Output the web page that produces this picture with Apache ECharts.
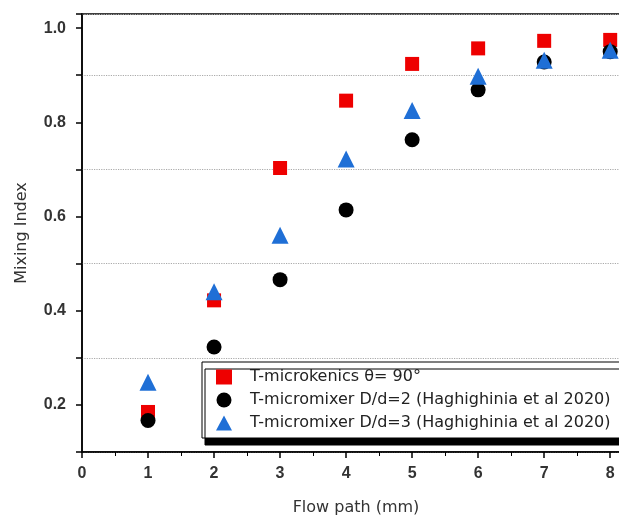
<!DOCTYPE html>
<html lang="en">
<head>
    <meta charset="UTF-8">
    <title>Mixing Index</title>
    <script type="text/javascript" src="https://cdn.jsdelivr.net/npm/echarts@6/dist/echarts.min.js"></script>
    <style>
        html, body { margin: 0; padding: 0; background: #fff; }
        #main { width: 619px; height: 517px; }
    </style>
</head>
<body>
<div id="main"></div>
<script>
    // flow path positions (mm)
    var flowPath = [1, 2, 3, 4, 5, 6, 7, 8];
    // mixing index
    var kenics90 = [0.185, 0.422, 0.703, 0.846, 0.924, 0.957, 0.973, 0.975];
    var mixerDd2 = [0.167, 0.323, 0.466, 0.614, 0.763, 0.869, 0.928, 0.950];
    var mixerDd3 = [0.248, 0.440, 0.560, 0.722, 0.825, 0.898, 0.932, 0.953];
    var seriesNames = [
        'T-microkenics θ= 90°',
        'T-micromixer D/d=2 (Haghighinia et al 2020)',
        'T-micromixer D/d=3 (Haghighinia et al 2020)'
    ];

    function pairs(ys) {
        return flowPath.map(function (x, i) { return [x, ys[i]]; });
    }

    // only label the even tenths (0.2 ... 1.0), like the original
    function yLabel(v) {
        var t = v * 10;
        if (Math.abs(t - Math.round(t)) > 1e-6) return '';
        var k = Math.round(t);
        if (k < 2 || k % 2) return '';
        return v.toFixed(1);
    }

    var tickFont = { fontFamily: 'Liberation Sans', fontSize: 16, fontWeight: 'bold', color: '#333' };
    var nameFont = { fontFamily: 'DejaVu Sans', fontSize: 16, color: '#333' };

    var myChart = echarts.init(document.getElementById('main'));
    var option = {
        animation: false,
        grid: {
            left: 82, top: 14, right: -11, bottom: 65,
            outerBoundsMode: 'none',
            show: true, borderColor: '#000', borderWidth: 1.5
        },
        legend: {
            orient: 'vertical',
            left: 202, top: 362,
            padding: [7, 40, 7, 14],
            itemGap: 7,
            itemWidth: 16, itemHeight: 15,
            backgroundColor: '#fff',
            borderColor: '#000', borderWidth: 1,
            shadowColor: '#000', shadowBlur: 0, shadowOffsetX: 3, shadowOffsetY: 7,
            textStyle: { fontFamily: 'DejaVu Sans', fontSize: 16, color: '#222', padding: [0, 0, 0, 13] },
            data: seriesNames
        },
        xAxis: {
            type: 'value',
            min: 0, max: 8.3, interval: 1,
            name: 'Flow path (mm)',
            nameLocation: 'middle', nameGap: 48,
            nameTextStyle: nameFont,
            axisLine: { lineStyle: { color: '#000', width: 1.5 } },
            axisTick: { length: 6, lineStyle: { color: '#000', width: 1.5 } },
            minorTick: { show: true, splitNumber: 2, length: 4, lineStyle: { color: '#000' } },
            axisLabel: Object.assign({ margin: 14 }, tickFont),
            splitLine: { show: false }
        },
        yAxis: [
            {
                type: 'value',
                min: 0.1, max: 1.03, interval: 0.1,
                name: 'Mixing Index',
                nameLocation: 'middle', nameGap: 52,
                nameTextStyle: nameFont,
                axisLine: { lineStyle: { color: '#000', width: 1.5 } },
                axisTick: { length: 6, lineStyle: { color: '#000', width: 1.5 } },
                axisLabel: Object.assign({ formatter: yLabel, margin: 16 }, tickFont),
                splitLine: { show: false }
            },
            {
                // only carries the dotted grid lines at 0.3, 0.5, 0.7, 0.9
                type: 'value',
                position: 'left',
                min: 0.1, max: 1.03, interval: 0.2,
                axisLine: { show: false },
                axisTick: { show: false },
                axisLabel: { show: false },
                splitLine: { show: true, lineStyle: { color: '#aaa', type: 'dotted', width: 1.2 } }
            }
        ],
        series: [
            {
                name: seriesNames[0], type: 'scatter', symbol: 'rect', symbolSize: 14,
                itemStyle: { color: '#ee0000', opacity: 1 }, data: pairs(kenics90)
            },
            {
                name: seriesNames[1], type: 'scatter', symbol: 'circle', symbolSize: 15,
                itemStyle: { color: '#000', opacity: 1 }, data: pairs(mixerDd2)
            },
            {
                name: seriesNames[2], type: 'scatter', symbol: 'triangle', symbolSize: 17,
                itemStyle: { color: '#1f6fd6', opacity: 1 }, data: pairs(mixerDd3)
            }
        ]
    };
    myChart.setOption(option);
</script>
</body>
</html>
